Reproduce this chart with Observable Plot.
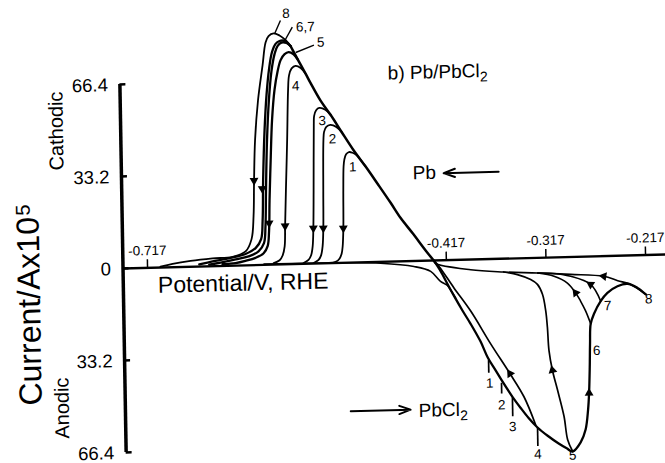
<!DOCTYPE html>
<html><head><meta charset="utf-8">
<script src="https://cdn.jsdelivr.net/npm/d3@7"></script>
<script src="https://cdn.jsdelivr.net/npm/@observablehq/plot@0.6"></script>
<style>
html,body{margin:0;padding:0;background:#fff;overflow:hidden}
#chart{position:relative;width:665px;height:463px}
</style></head><body><div id="chart"></div>
<script>
// ---- data (potential V vs RHE, current A x 1e5; cathodic positive) ----
const xTicks = [-0.717, -0.417, -0.317, -0.217];
const yTicks = [66.4, 33.2, 0, -33.2, -66.4];
const xAxisStart = -0.7416;
const xAxisEnd = -0.196;

const envelope = [[-0.5697,78.7],[-0.5629,73.9],[-0.5551,68.6],[-0.5503,65.2],[-0.5405,58.7],[-0.5307,53.5],[-0.5199,47.2],[-0.5082,40.5],[-0.4964,34.5],[-0.4847,28.2],[-0.4719,21.2],[-0.4621,15.6],[-0.4503,10.0],[-0.4376,3.7],[-0.4297,0]];
const cap1 = [[-0.4964,34.5],[-0.5053,38.7],[-0.5093,39.6],[-0.5129,39.9],[-0.5158,39.1],[-0.5176,37.3],[-0.5185,34.8],[-0.5192,26.0],[-0.5198,12.5],[-0.5208,5.9],[-0.5219,3.4],[-0.5240,1.6],[-0.5281,0.4],[-0.5352,0.1]];
const cap2 = [[-0.5199,47.2],[-0.5252,49.1],[-0.5311,49.85],[-0.5352,49.2],[-0.5375,47.4],[-0.5383,44.4],[-0.5393,26.2],[-0.5399,12.7],[-0.5409,6.2],[-0.5426,2.9],[-0.5452,1.3],[-0.5502,0.2]];
const cap3 = [[-0.5307,53.5],[-0.5359,55.4],[-0.5419,56.1],[-0.5451,55.3],[-0.5472,53.3],[-0.5477,50.0],[-0.5490,26.3],[-0.5499,12.8],[-0.5509,6.2],[-0.5526,3.0],[-0.5553,1.35],[-0.5603,0.3]];
const cap4 = [[-0.5551,68.6],[-0.5599,70.7],[-0.5650,71.5],[-0.5690,70.6],[-0.5717,68.1],[-0.5729,63.0],[-0.5747,44.8],[-0.5768,26.6],[-0.5782,13.8],[-0.5790,6.5],[-0.5812,3.2],[-0.5843,1.5],[-0.5903,0.5]];
const cap5 = [[-0.5629,73.9],[-0.5668,75.7],[-0.5718,76.5],[-0.5758,75.8],[-0.5799,73.7],[-0.5831,69.7],[-0.5865,63.1],[-0.5895,52.2],[-0.5916,37.6],[-0.5934,23.1],[-0.5944,12.1],[-0.5961,6.7],[-0.6002,4.2],[-0.6084,2.6],[-0.6186,1.6],[-0.6286,0.9],[-0.6417,0.6]];
const cap6 = [[-0.5697,78.7],[-0.5737,79.8],[-0.5787,80.0],[-0.5828,78.8],[-0.5859,75.9],[-0.5893,69.7],[-0.5923,59.5],[-0.5949,45.0],[-0.5968,26.7],[-0.5979,14.0],[-0.5997,7.8],[-0.6053,4.9],[-0.6154,3.2],[-0.6284,2.2],[-0.6436,1.2],[-0.6550,0.6]];
const cap7 = [[-0.5697,78.7],[-0.5757,80.6],[-0.5807,80.6],[-0.5847,79.6],[-0.5884,76.7],[-0.5917,70.5],[-0.5946,61.4],[-0.5972,48.6],[-0.5995,30.4],[-0.6007,15.8],[-0.6025,9.3],[-0.6082,6.1],[-0.6184,4.1],[-0.6335,2.8],[-0.6516,1.7],[-0.6650,0.8]];
const cap8 = [[-0.5697,78.7],[-0.5747,80.9],[-0.5806,82.6],[-0.5865,83.4],[-0.5916,82.5],[-0.5947,80.2],[-0.5981,72.0],[-0.6032,59.6],[-0.6069,45.1],[-0.6086,30.5],[-0.6097,17.7],[-0.6121,9.4],[-0.6183,5.0],[-0.6315,3.2],[-0.6516,2.8],[-0.6737,2.1],[-0.6918,1.2],[-0.7040,0.3]];
const baselineDip = [[-0.600,0.3],[-0.520,0.0],[-0.483,-0.5],[-0.4496,-2.0],[-0.4329,-3.9],[-0.4232,-7.6],[-0.4164,-9.1],[-0.4083,-13.8]];
const anodicMain = [[-0.4297,0],[-0.4228,-4.0],[-0.4161,-8.7],[-0.4103,-12.7],[-0.4014,-18.5],[-0.3937,-23.2],[-0.3840,-29.7],[-0.3771,-35.5],[-0.3694,-40.2],[-0.3617,-44.9],[-0.3528,-50.0],[-0.3449,-54.0],[-0.3371,-57.7],[-0.3281,-61.3],[-0.3183,-64.3],[-0.3074,-67.2],[-0.2994,-69.0],[-0.2934,-70.2],[-0.2853,-67.0],[-0.2801,-62.4],[-0.2773,-55.3],[-0.2760,-49.3],[-0.2749,-40.0],[-0.2742,-31.4],[-0.2732,-24.3],[-0.2697,-20.7],[-0.2628,-16.2],[-0.2559,-13.3],[-0.2457,-11.0],[-0.2357,-10.2],[-0.2256,-11.8],[-0.2174,-14.2]];
const anodicReturn = [[-0.3302,-60.2],[-0.3414,-50.0],[-0.3551,-41.5],[-0.3739,-30.6],[-0.3934,-18.6],[-0.4098,-10.1],[-0.4244,-2.2],[-0.4297,0]];
const return5 = [[-0.2934,-70.2],[-0.2983,-65.9],[-0.3015,-57.5],[-0.3076,-47.9],[-0.3124,-40.7],[-0.3155,-33.6],[-0.3167,-25.2],[-0.3181,-19.2],[-0.3211,-13.2],[-0.3260,-9.6],[-0.3327,-7.8],[-0.3459,-5.9],[-0.3597,-4.8]];
const return6 = [[-0.2732,-24.3],[-0.2781,-19.6],[-0.2830,-16.0],[-0.2878,-13.0],[-0.2959,-9.4],[-0.3092,-6.8],[-0.3255,-5.5]];
const return7 = [[-0.2628,-16.2],[-0.2726,-10.1],[-0.2924,-7.0],[-0.3125,-5.7],[-0.3255,-5.5]];
const return8 = [[-0.2174,-14.2],[-0.2324,-10.5],[-0.2453,-9.0],[-0.2593,-7.3],[-0.2924,-6.3],[-0.3255,-5.5],[-0.3597,-4.8],[-0.3927,-3.7],[-0.4278,-1.1],[-0.4297,0]];
// anodic reversal marks: [V, I top, I bottom]
const reversalMarks = [[-0.3763,-36.6,-41.2],[-0.3637,-44.9,-48.8],[-0.3530,-50.3,-57.1],[-0.3283,-61.3,-68.1]];
// direction arrows: [V, I, angle]
const arrowHeads = [[-0.5198,12.5,180],[-0.5399,12.7,180],[-0.5499,12.8,180],[-0.5782,13.8,180],[-0.5942,15.0,180],[-0.6005,27.5,180],[-0.6086,30.5,180],
  [-0.3551,-41.5,-32],[-0.3124,-40.7,-12],[-0.2760,-49.3,0],[-0.2878,-13.0,-36],[-0.2726,-10.1,-56],[-0.2593,-7.3,-80]];
const curveLabels = [["1",-0.5095,34.4],["2",-0.5293,44.7],["3",-0.5391,51.4],["4",-0.5653,64.2],["5",-0.5395,79.7],["6,7",-0.5545,85.4],["8",-0.5737,90.4],
  ["1",-0.3756,-44.8],["2",-0.3639,-52.8],["3",-0.3532,-60.7],["4",-0.3284,-70.9],["5",-0.2936,-71.6],["6",-0.2677,-34.0],["7",-0.2558,-18.0],["8",-0.2145,-15.9]];
const leaders = [[-0.5794,88.0,-0.5856,83.2],[-0.5676,85.5,-0.5763,80.1],[-0.5462,78.8,-0.5646,76.3]];
const speciesArrows = [[-0.3630,31.4,-0.4182,31.4],[-0.5155,-53.6,-0.4554,-53.6]];
// annotation text: [text, V, I]
const titleNote = ["b) Pb/PbCl", -0.4726, 67.9];
const pbNote = ["Pb", -0.4493, 31.7];
const pbcl2Note = ["PbCl", -0.4473, -54.1];
const sideLabels = [["Cathodic",-0.806,50.2],["Anodic",-0.8048,-49.8]];
const yTitle = ["Current/Ax10", -0.8358, -48.6];

const FONT = "Liberation Sans, Arial, Helvetica, sans-serif";
const L = (data, w) => Plot.line(data, {x: d => d[0], y: d => d[1], stroke: "#000", strokeWidth: w, curve: "catmull-rom"});
const T = (item, opts) => Plot.text([item], {x: d => d[1], y: d => d[2], fill: "#000", ...opts});

const chart = Plot.plot({
  width: 665, height: 463,
  marginLeft: 122.5, marginTop: 0, marginRight: 0, marginBottom: 0,
  style: {background: "white", overflow: "visible", fontFamily: FONT, color: "#000"},
  x: {type: "linear", domain: [-0.717, -0.217], range: [147, 645], axis: null},
  y: {type: "linear", domain: [-66.4, 66.4], range: [453, 85]},
  marks: [
    Plot.ruleY([0], {x1: xAxisStart, x2: xAxisEnd, stroke: "#000", strokeWidth: 2.3}),
    Plot.ruleX([xAxisStart], {y1: -66.4, y2: 66.4, stroke: "#000", strokeWidth: 3.5}),
    Plot.ruleY(yTicks, {x1: xAxisStart, x2: xAxisStart + 0.006, stroke: "#000", strokeWidth: 2.5}),
    Plot.axisY(yTicks, {anchor: "left", tickSize: 0, tickPadding: 12, dy: 0.5, fontSize: 18.5,
      tickFormat: d => d === 0 ? "0" : Math.abs(d).toFixed(1), label: null}),
    Plot.ruleX(xTicks, {y1: 0, y2: 2.9, stroke: "#000", strokeWidth: 1.5}),
    Plot.text(xTicks, {x: d => d, y: 0, dy: -17, text: d => d.toFixed(3), fontSize: 13.5, fill: "#000"}),
    L(envelope, 2.5),
    L(cap1, 1.8), L(cap2, 1.8), L(cap3, 1.8), L(cap4, 1.8),
    L(cap5, 2.3), L(cap6, 2.3), L(cap7, 2.3), L(cap8, 1.8),
    L(baselineDip, 1.6),
    L(anodicMain, 2.3), L(anodicReturn, 1.7),
    L(return5, 1.7), L(return6, 1.6), L(return7, 1.6), L(return8, 1.6),
    Plot.ruleX(reversalMarks, {x: d => d[0], y1: d => d[1], y2: d => d[2], stroke: "#000", strokeWidth: 1.7}),
    Plot.dot(arrowHeads, {x: d => d[0], y: d => d[1], rotate: d => d[2], symbol: "triangle", r: 3.3, fill: "#000", stroke: "none"}),
    Plot.link(leaders, {x1: d => d[0], y1: d => d[1], x2: d => d[2], y2: d => d[3], stroke: "#000", strokeWidth: 1.4}),
    Plot.text(curveLabels, {x: d => d[1], y: d => d[2], text: d => d[0], fontSize: 13.5, fill: "#000"}),
    Plot.arrow(speciesArrows, {x1: d => d[0], y1: d => d[1], x2: d => d[2], y2: d => d[3], stroke: "#000", strokeWidth: 2, headLength: 9, headAngle: 40}),
    T(titleNote, {text: d => d[0], textAnchor: "start", fontSize: 19}),
    T(titleNote, {text: () => "2", textAnchor: "start", fontSize: 14, dx: 92, dy: 6}),
    T(pbNote, {text: d => d[0], textAnchor: "start", fontSize: 19}),
    T(pbcl2Note, {text: d => d[0], textAnchor: "start", fontSize: 19}),
    T(pbcl2Note, {text: () => "2", textAnchor: "start", fontSize: 14, dx: 41.5, dy: 6}),
    Plot.text(["Potential/V, RHE"], {x: -0.6213, y: -6.45, text: d => d, fontSize: 23, fill: "#000"}),
    Plot.text(sideLabels, {x: d => d[1], y: d => d[2], text: d => d[0], rotate: -90, fontSize: 20, fill: "#000"}),
    T(yTitle, {text: d => d[0], rotate: -90, textAnchor: "start", fontSize: 32}),
    T(yTitle, {text: () => "5", rotate: -90, textAnchor: "start", dy: -190, dx: -5, fontSize: 20})
  ]
});
chart.style.transformOrigin = "122.5px 268px";
chart.style.transform = "matrix(1,-0.0258,0.017,1,0,-1)";
document.getElementById("chart").appendChild(chart);
</script></body></html>
